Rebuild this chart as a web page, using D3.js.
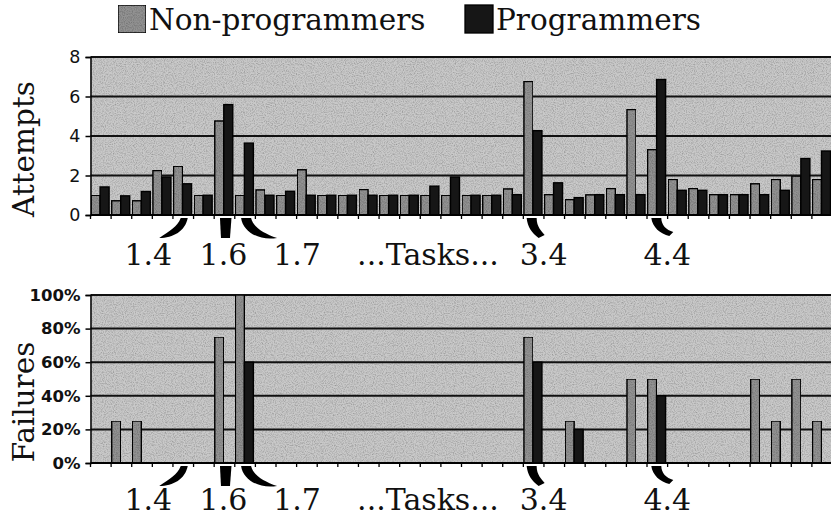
<!DOCTYPE html>
<html><head><meta charset="utf-8">
<script src="https://cdn.jsdelivr.net/npm/d3@7"></script>
<style>html,body{margin:0;padding:0;background:#fff;}svg{display:block;}</style>
</head><body>
<script>
const series = ["Non-programmers", "Programmers"];
const taskCount = 36;
const nonProgAttempts = [1.0,0.72,0.72,2.25,2.47,1.0,4.76,1.0,1.27,1.0,2.29,1.0,1.0,1.29,1.0,1.0,1.0,1.0,1.0,1.0,1.32,6.76,1.03,0.78,1.02,1.34,5.34,3.31,1.8,1.34,1.03,1.03,1.58,1.8,1.97,1.8];
const progAttempts = [1.42,0.97,1.19,1.92,1.58,1.0,5.59,3.64,1.0,1.2,1.0,1.0,1.0,1.0,1.0,1.0,1.46,1.92,1.0,1.0,1.03,4.27,1.63,0.88,1.03,1.03,1.03,6.86,1.25,1.25,1.03,1.03,1.03,1.25,2.86,3.24];
const nonProgFailures = [0,0.25,0.25,0,0,0,0.75,1.0,0,0,0,0,0,0,0,0,0,0,0,0,0,0.75,0,0.25,0,0,0.5,0.5,0,0,0,0,0.5,0.25,0.5,0.25];
const progFailures = [0,0,0,0,0,0,0,0.6,0,0,0,0,0,0,0,0,0,0,0,0,0,0.6,0,0.2,0,0,0,0.4,0,0,0,0,0,0,0,0];
const attemptTicks = [0,2,4,6,8];
const failureTicks = [0,0.2,0.4,0.6,0.8,1.0];
const taskLabels = ["1.4","1.6","1.7","3.4","4.4"];
const taskIndex = [4,6,7,21,27];
const middleLabel = "...Tasks...";

const W = 831, H = 516;
const svg = d3.select("body").append("svg").attr("width", W).attr("height", H);
const defs = svg.append("defs");
const f = defs.append("filter").attr("id","grain").attr("x",0).attr("y",0).attr("width","100%").attr("height","100%");
f.append("feTurbulence").attr("type","fractalNoise").attr("baseFrequency",0.9).attr("numOctaves",2).attr("seed",3).attr("result","n");
f.append("feColorMatrix").attr("in","n").attr("type","matrix")
 .attr("values","0 0 0 0 0  0 0 0 0 0  0 0 0 0 0  0 0 0 -0.9 0.55").attr("result","a");
f.append("feComposite").attr("in","a").attr("in2","SourceGraphic").attr("operator","in").attr("result","b");
f.append("feMerge").call(m=>{m.append("feMergeNode").attr("in","SourceGraphic");m.append("feMergeNode").attr("in","b");});

const idx = d3.range(taskCount);
const x = d3.scaleBand().domain(idx).range([90.5, 832.5]).padding(0);
const xs = d3.scaleBand().domain(series).range([0.6, 18.6]);
const colors = {"Non-programmers":"#929292","Programmers":"#161616"};
const bgColor = "#c9c9c9";

const serif = "'DejaVu Serif', serif";
const sans = "'DejaVu Sans', sans-serif";

function panel(opts){
  const {y, ticks, fmt, bold, dataA, dataB, title, titleY, labelBase} = opts;
  const g = svg.append("g");
  const [y0, y1] = y.range();
  g.append("rect").attr("x", x.range()[0]).attr("y", y1).attr("width", x.range()[1]-x.range()[0]).attr("height", y0-y1)
    .attr("fill", bgColor).attr("filter","url(#grain)");
  g.selectAll("line.grid").data(ticks.slice(1)).join("line")
    .attr("x1", x.range()[0]).attr("x2", W).attr("y1", d=>y(d)).attr("y2", d=>y(d))
    .attr("stroke","#111").attr("stroke-width", 2);
  const rows = idx.map(i => ({i, vals:[{s:series[0], v:dataA[i]},{s:series[1], v:dataB[i]}]}));
  const grp = g.selectAll("g.cat").data(rows).join("g").attr("transform", d=>`translate(${x(d.i)},0)`);
  grp.selectAll("rect").data(d=>d.vals.filter(v=>v.v>0)).join("rect")
    .attr("x", d=>xs(d.s)).attr("width", xs.bandwidth())
    .attr("y", d=>y(d.v)).attr("height", d=>y0-y(d.v))
    .attr("fill", d=>colors[d.s]).attr("stroke","#000").attr("stroke-width",1.4)
    .attr("filter", d=> d.s===series[0] ? "url(#grain)" : null);
  const xa = g.append("g").attr("transform",`translate(0,${y0})`);
  xa.append("line").attr("x1", x.range()[0]).attr("x2", W).attr("stroke","#000").attr("stroke-width",2);
  xa.selectAll("line.t").data(idx).join("line").attr("class","t")
    .attr("x1", d=>x(d)).attr("x2", d=>x(d)).attr("y1",0).attr("y2",4).attr("stroke","#000").attr("stroke-width",1.3);
  const ya = g.append("g").attr("transform",`translate(${x.range()[0]},0)`)
    .call(d3.axisLeft(y).tickValues(ticks).tickFormat(fmt).tickSize(5).tickPadding(5));
  ya.select(".domain").attr("stroke","#000").attr("stroke-width",1.5);
  ya.selectAll(".tick line").attr("stroke","#000").attr("stroke-width",1.5);
  ya.selectAll(".tick text").attr("font-family", sans).attr("font-size", bold?16.5:17.5)
    .attr("font-weight", bold?"bold":"normal").attr("fill","#111");
  svg.append("text").attr("transform",`translate(34,${titleY}) rotate(-90)`).attr("text-anchor","middle")
    .attr("font-family", serif).attr("font-size", 29.5).attr("fill","#111").text(title);
  const top = y0 + 3;
  const lb = labelBase;
  const ptr = g.append("g").attr("fill","#000");
  const c = i => x(i) + x.bandwidth()/2;
  let cx = c(taskIndex[0]);
  ptr.append("path").attr("d", `M${cx-2.5},${top} L${cx+4.5},${top} C${cx+2},${top+13} ${cx-10},${top+20} ${cx-24},${top+20} C${cx-14},${top+13} ${cx-6},${top+9} ${cx-2.5},${top}Z`);
  cx = c(taskIndex[1]);
  ptr.append("path").attr("d", `M${cx-4.5},${top} L${cx+7},${top} L${cx+5.5},${top+20} L${cx-3.5},${top+20}Z`);
  cx = c(taskIndex[2]);
  ptr.append("path").attr("d", `M${cx-4},${top} L${cx+6},${top} C${cx+8},${top+9} ${cx+18},${top+15} ${cx+32},${top+20} C${cx+14},${top+23} ${cx-2},${top+14} ${cx-4},${top}Z`);
  cx = c(taskIndex[3]);
  ptr.append("path").attr("d", `M${cx-7},${top} L${cx+3},${top} C${cx+3},${top+9} ${cx+8},${top+13} ${cx+11},${top+17} L${cx+5},${top+20} C${cx-2},${top+15} ${cx-6},${top+9} ${cx-7},${top}Z`);
  cx = c(taskIndex[4]);
  ptr.append("path").attr("d", `M${cx-6},${top} L${cx+4},${top} C${cx+4},${top+7} ${cx+9},${top+12} ${cx+16},${top+14} L${cx+12},${top+18} C${cx+3},${top+16} ${cx-5},${top+9} ${cx-6},${top}Z`);
  const offs = [-35, -1, 52, 10, 10];
  g.selectAll("text.task").data(taskLabels).join("text").attr("class","task")
    .attr("x",(d,i)=>c(taskIndex[i])+offs[i]).attr("y", lb).attr("text-anchor","middle")
    .attr("font-family", serif).attr("font-size", 30).attr("fill","#111").text(d=>d);
  g.append("text").attr("x", 428).attr("y", lb).attr("text-anchor","middle")
    .attr("font-family", serif).attr("font-size", 30).attr("fill","#111").text(middleLabel);
}

panel({y: d3.scaleLinear().domain([0,8]).range([215,57]), ticks: attemptTicks, fmt: d3.format("d"), bold:false,
  dataA: nonProgAttempts, dataB: progAttempts, title:"Attempts", titleY:149, labelBase:265});
panel({y: d3.scaleLinear().domain([0,1]).range([463,295]), ticks: failureTicks, fmt: d3.format(".0%"), bold:true,
  dataA: nonProgFailures, dataB: progFailures, title:"Failures", titleY:402, labelBase:510});

const leg = svg.append("g");
const legX = [118, 465];
series.forEach((s,i)=>{
  leg.append("rect").attr("x", legX[i]).attr("y", 5).attr("width", 28).attr("height", 28)
    .attr("fill", colors[s]).attr("stroke","#000").attr("stroke-width",1.3)
    .attr("filter", i===0 ? "url(#grain)" : null);
  leg.append("text").attr("x", legX[i]+31).attr("y", 30).attr("font-family", serif).attr("font-size", 29.5)
    .attr("fill","#111").text(s);
});
</script>
</body></html>
